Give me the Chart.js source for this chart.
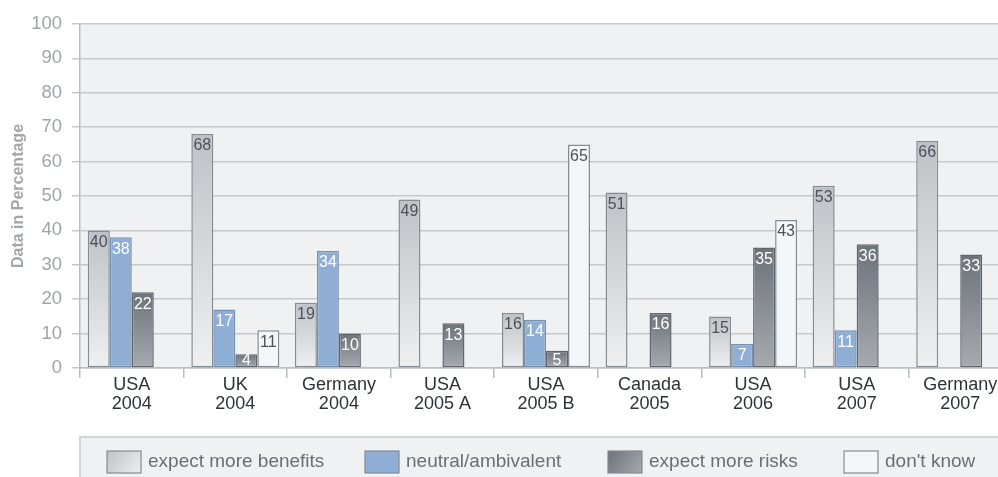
<!DOCTYPE html>
<html>
<head>
<meta charset="utf-8">
<script src="https://cdn.jsdelivr.net/npm/chart.js@4/dist/chart.umd.min.js"></script>
<style>
  html, body { margin: 0; padding: 0; background: #fff; overflow: hidden; }
  #wrap { width: 1012px; height: 477px; position: relative; }
</style>
</head>
<body>
<div id="wrap"><canvas id="myChart"></canvas></div>
<script>
// categories (two-line tick labels)
var labels = [
    ['USA', '2004'], ['UK', '2004'], ['Germany', '2004'],
    ['USA', '2005 A'], ['USA', '2005 B'], ['Canada', '2005'],
    ['USA', '2006'], ['USA', '2007'], ['Germany', '2007']
];

var seriesNames = ['expect more benefits', 'neutral/ambivalent', 'expect more risks', "don't know"];

var benefits = [40, 68, 19, 49, 16, 51, 15, 53, 66];
var neutral  = [38, 17, 34, null, 14, null, 7, 11, null];
var risks    = [22, 4, 10, 13, 5, 16, 35, 36, 33];
var dontKnow = [null, 11, null, null, 65, null, 43, null, null];

var yTicks = [0, 10, 20, 30, 40, 50, 60, 70, 80, 90, 100];

var plotBg = '#f0f1f3';
var fontFam = '"Liberation Sans", Arial, Helvetica, sans-serif';

// gradient per bar, from its top to zero line
var vGrad = function (topCol, botCol) {
    return function (ctx) {
        var chart = ctx.chart;
        if (!chart.chartArea || ctx.raw == null || !chart.scales.y) return botCol;
        var y = chart.scales.y;
        var y0 = y.getPixelForValue(ctx.raw);
        var y1 = y.getPixelForValue(0);
        var g = chart.ctx.createLinearGradient(0, y0, 0, y1);
        g.addColorStop(0, topCol);
        g.addColorStop(1, botCol);
        return g;
    };
};

var labelColors = ['#4b525a', '#ffffff', '#ffffff', '#4b525a'];

var plotBackground = {
    id: 'plotBackground',
    beforeDraw: function (chart) {
        var a = chart.chartArea, c = chart.ctx;
        c.save();
        c.fillStyle = plotBg;
        c.fillRect(a.left, a.top, a.right - a.left, a.bottom - a.top);
        c.restore();
    }
};

// value labels inside the top of each bar
var barValues = {
    id: 'barValues',
    afterDatasetsDraw: function (chart) {
        var c = chart.ctx;
        c.save();
        c.font = '16px ' + fontFam;
        c.textAlign = 'center';
        c.textBaseline = 'middle';
        chart.data.datasets.forEach(function (ds, i) {
            var meta = chart.getDatasetMeta(i);
            meta.data.forEach(function (bar, j) {
                var v = ds.data[j];
                if (v == null) return;
                c.fillStyle = labelColors[i];
                var ty = Math.min(bar.y + 12, bar.base - 7);
                c.fillText(String(v), bar.x, ty);
            });
        });
        c.restore();
    }
};

// legend panel drawn under the axis labels
var legendPanel = {
    id: 'legendPanel',
    afterDraw: function (chart) {
        var c = chart.ctx;
        var left = chart.chartArea.left, top = 437;
        c.save();
        c.fillStyle = plotBg;
        c.fillRect(left, top, chart.width - left, chart.height - top);
        c.strokeStyle = '#c6c9cc';
        c.lineWidth = 1.5;
        c.beginPath();
        c.moveTo(left, chart.height);
        c.lineTo(left, top);
        c.lineTo(chart.width, top);
        c.stroke();

        var boxX = [107, 365, 608, 844];
        var fills = [
            ['#bfc3c7', '#eceef0'],
            ['#8eaed6', '#8eaed6'],
            ['#6b7279', '#a4a9ae'],
            ['#f4f7fa', '#f4f7fa']
        ];
        c.font = '19px ' + fontFam;
        c.textBaseline = 'middle';
        c.textAlign = 'left';
        seriesNames.forEach(function (name, i) {
            var x = boxX[i], y = 451, w = 34, h = 22;
            var g = c.createLinearGradient(x, y, x + w, y + h);
            g.addColorStop(0, fills[i][0]);
            g.addColorStop(1, fills[i][1]);
            c.fillStyle = g;
            c.fillRect(x, y, w, h);
            c.strokeStyle = '#858b92';
            c.lineWidth = 1.2;
            c.strokeRect(x, y, w, h);
            c.fillStyle = '#6a6f76';
            c.fillText(name, x + w + 7, y + h / 2);
        });
        c.restore();
    }
};

var ctx = document.getElementById('myChart');
var chart = new Chart(ctx, {
    type: 'bar',
    data: {
        labels: labels,
        datasets: [
            {
                label: seriesNames[0],
                data: benefits,
                backgroundColor: vGrad('#bec2c6', '#eef0f2'),
                borderColor: '#868c93'
            },
            {
                label: seriesNames[1],
                data: neutral,
                backgroundColor: '#8eaed6',
                borderColor: '#7890ae'
            },
            {
                label: seriesNames[2],
                data: risks,
                backgroundColor: vGrad('#6b7279', '#a6abb0'),
                borderColor: '#5f666d'
            },
            {
                label: seriesNames[3],
                data: dontKnow,
                backgroundColor: '#f4f7fa',
                borderColor: '#868c93'
            }
        ]
    },
    options: {
        responsive: true,
        maintainAspectRatio: false,
        animation: false,
        layout: { padding: { top: 24, right: 0, bottom: 0, left: 0 } },
        datasets: {
            bar: {
                categoryPercentage: 0.85,
                barPercentage: 1.0,
                borderWidth: 1.5,
                borderSkipped: false
            }
        },
        plugins: {
            legend: { display: false },
            tooltip: { enabled: false }
        },
        scales: {
            x: {
                afterFit: function (s) { s.height = 109; },
                grid: {
                    offset: true,
                    drawOnChartArea: false,
                    tickLength: 10,
                    color: '#b9bdc1',
                    lineWidth: 1.5
                },
                border: { display: true, color: '#b9bdc1', width: 1.5 },
                ticks: {
                    padding: -3,
                    color: '#2e3237',
                    font: { family: fontFam, size: 18, lineHeight: 1.08 }
                }
            },
            y: {
                min: 0,
                max: 100,
                afterFit: function (s) { s.width = 80; },
                afterBuildTicks: function (s) {
                    s.ticks = yTicks.map(function (v) { return { value: v }; });
                },
                grid: {
                    color: '#c6c9cc',
                    lineWidth: 1.5,
                    tickLength: 8
                },
                border: { display: true, color: '#b9bdc1', width: 1.5 },
                ticks: {
                    padding: 10,
                    color: '#a0a4a9',
                    font: { family: fontFam, size: 18.5 }
                },
                title: {
                    display: true,
                    text: 'Data in Percentage',
                    color: '#a3a7ab',
                    padding: { top: 9, bottom: 0 },
                    font: { family: fontFam, size: 16, weight: 'bold' }
                }
            }
        }
    },
    plugins: [plotBackground, barValues, legendPanel]
});
</script>
</body>
</html>
